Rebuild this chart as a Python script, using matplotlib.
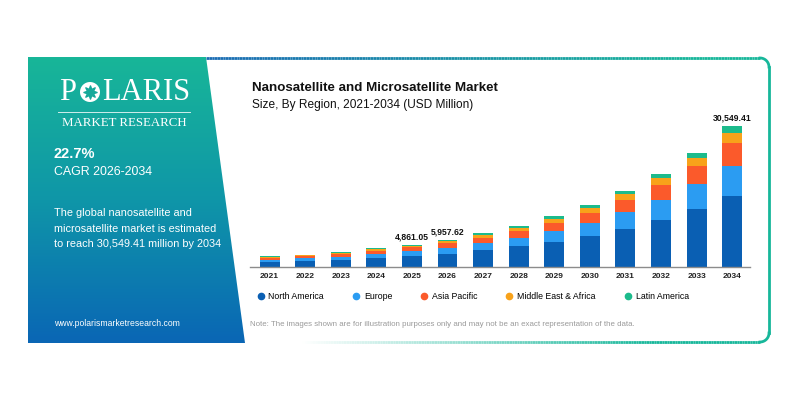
import numpy as np
import matplotlib.pyplot as plt
from matplotlib.colors import LinearSegmentedColormap, to_rgb
from matplotlib.patches import Polygon, Circle
from matplotlib.collections import LineCollection
from matplotlib.lines import Line2D

plt.rcParams['font.family'] = ['Liberation Sans', 'DejaVu Sans']

years = ['2021', '2022', '2023', '2024', '2025', '2026', '2027',
         '2028', '2029', '2030', '2031', '2032', '2033', '2034']
regions = ['North America', 'Europe', 'Asia Pacific', 'Middle East & Africa', 'Latin America']
north_america = [1010, 1300, 1520, 2030, 2390, 2900, 3620, 4490, 5430, 6660, 8250, 10140, 12600, 15350]
europe = [510, 580, 720, 870, 1010, 1300, 1590, 1880, 2390, 2970, 3620, 4490, 5360, 6660]
asia_pacific = [430, 430, 510, 650, 870, 1000, 1160, 1450, 1740, 2170, 2610, 3190, 3980, 4920]
mea = [210, 215, 300, 290, 360, 430, 510, 650, 870, 1010, 1300, 1450, 1810, 2170]
latin_america = [160, 155, 210, 210, 231, 328, 430, 430, 580, 650, 720, 1010, 1090, 1449]
value_labels = {4: '4,861.05', 5: '5,957.62', 13: '30,549.41'}

colors = ['#0a5fb3', '#2b9cf2', '#fb5a2b', '#f8a21a', '#1cbb8c']

fig = plt.figure(figsize=(8, 4), dpi=100)
bg = fig.add_axes([0, 0, 1, 1])
bg.set_xlim(0, 800)
bg.set_ylim(400, 0)
bg.axis('off')

# left gradient panel with slanted right edge
cmap = LinearSegmentedColormap.from_list('panel', ['#18b698', '#0f96a8', '#0a66b5'])
grad = np.linspace(0, 1, 256).reshape(-1, 1)
im = bg.imshow(grad, extent=[28, 246, 343, 57], cmap=cmap, aspect='auto', zorder=1)
clip = Polygon([(28, 57), (206, 57), (245, 343), (28, 343)], closed=True,
               transform=bg.transData, facecolor='none', edgecolor='none')
bg.add_patch(clip)
im.set_clip_path(clip)

# border of the white area, fading from blue/white to teal
teal = np.array(to_rgb('#17b79a'))
def border(xs, ys, c0, x0, x1):
    pts = np.column_stack([xs, ys])
    segs = np.stack([pts[:-1], pts[1:]], axis=1)
    t = np.clip((pts[:-1, 0] - x0) / (x1 - x0), 0, 1)[:, None]
    cols = np.array(to_rgb(c0)) * (1 - t) + teal * t
    bg.add_collection(LineCollection(segs, colors=cols, linewidths=2, zorder=2))

xs = np.linspace(206, 760, 200)
border(xs, np.full_like(xs, 58), '#1b6cb4', 206, 700)
th = np.linspace(-np.pi / 2, 0, 20)
bg.plot(760 + 9 * np.cos(th), 67 + 9 * np.sin(th), color='#17b79a', lw=2, zorder=2)
bg.plot([769, 769], [67, 333], color='#17b79a', lw=2, zorder=2)
th = np.linspace(0, np.pi / 2, 20)
bg.plot(760 + 9 * np.cos(th), 333 + 9 * np.sin(th), color='#17b79a', lw=2, zorder=2)
xs = np.linspace(245, 760, 200)
border(xs, np.full_like(xs, 342), '#ffffff', 300, 650)

# logo
bg.text(59, 93, 'P', family='Liberation Serif', fontsize=22, color='white', va='center', zorder=3)
bg.text(190, 93, 'LARIS', family='Liberation Serif', fontsize=22, color='white',
        va='center', ha='right', zorder=3)
bg.add_patch(Circle((90, 92), 10, facecolor='white', edgecolor='none', zorder=3))
bg.scatter([90], [92], marker=(8, 1, 0), s=90, color='#16a99a', zorder=4)
bg.plot([58, 190], [112, 112], color='white', lw=0.7, alpha=0.8, zorder=3)
bg.text(124, 123, 'MARKET RESEARCH', family='Liberation Serif', fontsize=9.3, color='white',
        va='center', ha='center', zorder=3)

bg.text(54, 154, '22.7%', fontsize=10.5, fontweight='bold', color='white', va='center', zorder=3)
bg.text(54, 172, 'CAGR 2026-2034', fontsize=8.9, color='white', va='center', zorder=3)
desc = ['The global nanosatellite and',
        'microsatellite market is estimated',
        'to reach 30,549.41 million by 2034']
for i, line in enumerate(desc):
    bg.text(54, 213 + i * 15.5, line, fontsize=7.8, color='white', va='center', zorder=3)
bg.text(54, 324, 'www.polarismarketresearch.com', fontsize=6.2, color='white', va='center', zorder=3)

# titles and note
bg.text(252, 88, 'Nanosatellite and Microsatellite Market', fontsize=9.6,
        fontweight='bold', color='#111111', va='center')
bg.text(252, 105, 'Size, By Region, 2021-2034 (USD Million)', fontsize=8.6,
        color='#111111', va='center')
bg.text(250, 324, 'Note: The images shown are for illustration purposes only and may not be an exact representation of the data.',
        fontsize=5.7, color='#9a9a9a', va='center')

# stacked bar chart
ax = fig.add_axes([250 / 800, 1 - 267 / 400, 500 / 800, 152 / 400])
x = np.arange(len(years))
series = [north_america, europe, asia_pacific, mea, latin_america]
bottom = np.zeros(len(years))
for vals, col in zip(series, colors):
    ax.bar(x, vals, bottom=bottom, width=0.56, color=col, zorder=2)
    bottom += np.array(vals)
for i, lab in value_labels.items():
    ax.annotate(lab, (x[i], bottom[i]), xytext=(0, 2.5), textcoords='offset points',
                ha='center', va='bottom', fontsize=6.2, fontweight='bold', color='#111111')

ax.set_xlim(-0.55, 13.5)
ax.set_ylim(0, 33000)
ax.set_xticks(x)
ax.set_xticklabels(years, fontsize=6, fontweight='bold', color='#222222')
ax.tick_params(axis='x', length=0, pad=4)
ax.set_yticks([])
for s in ['top', 'right', 'left']:
    ax.spines[s].set_visible(False)
ax.spines['bottom'].set_color('#8c8c8c')
ax.spines['bottom'].set_linewidth(1)
ax.patch.set_alpha(0)

handles = [Line2D([], [], marker='o', ls='none', color=c, markersize=4.5) for c in colors]
ax.legend(handles, regions, loc='upper left', bbox_to_anchor=(0.007, -0.14), ncol=5,
          frameon=False, fontsize=6.3, handlelength=0.8, handletextpad=0.5,
          columnspacing=3.25, borderaxespad=0)

fig.savefig('out.png', dpi=100)
